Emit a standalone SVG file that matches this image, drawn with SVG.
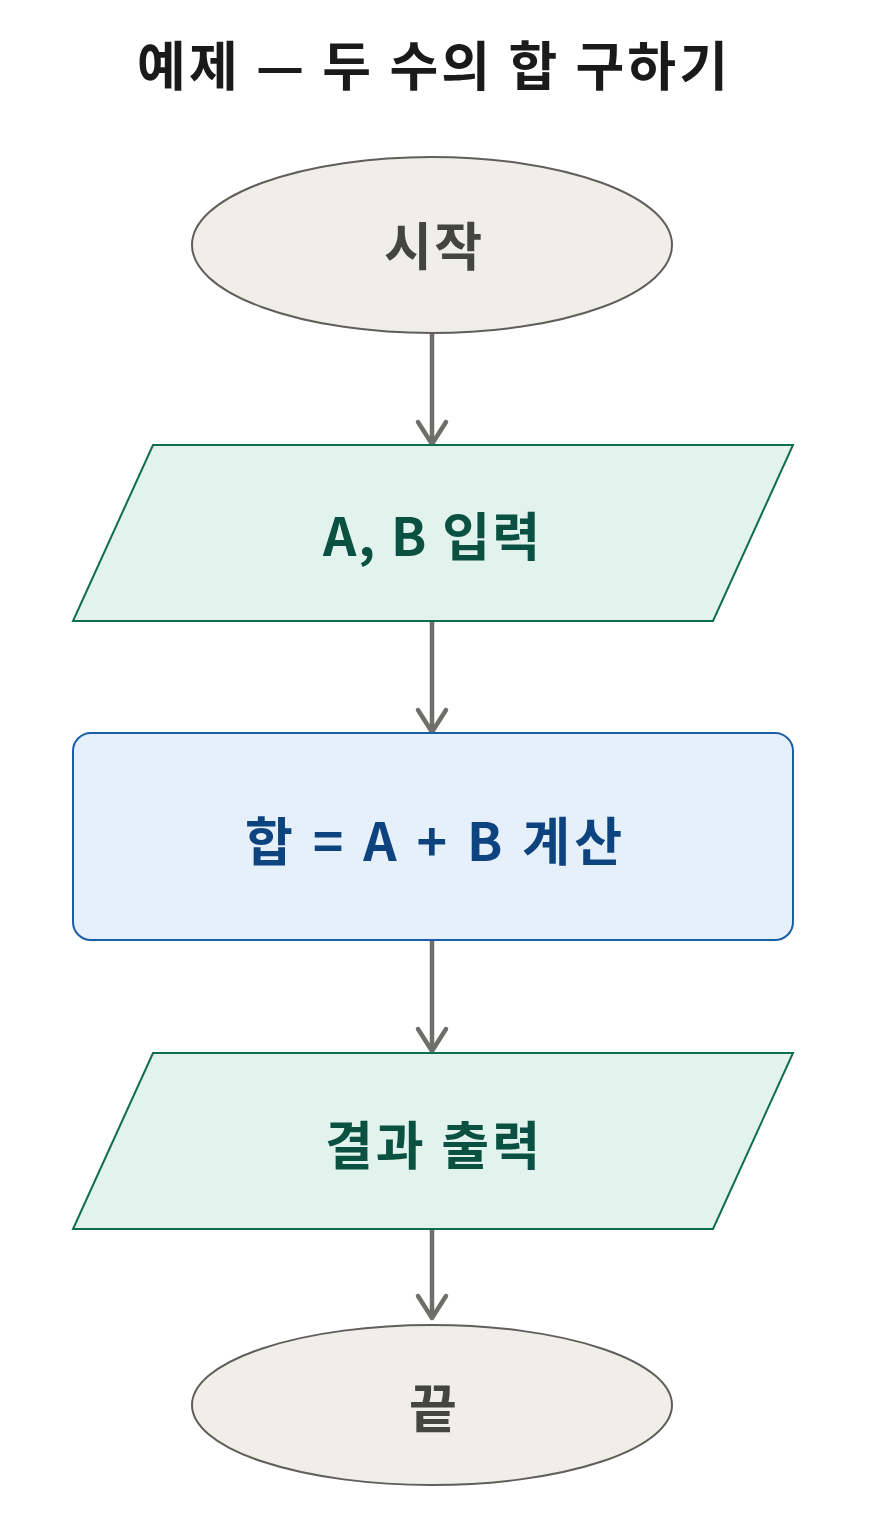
<svg xmlns="http://www.w3.org/2000/svg" width="884" height="1525" viewBox="0 0 884 1525">
<style>
.t{font-family:"Noto Sans CJK KR","Noto Sans",sans-serif;font-weight:bold;text-anchor:middle;dominant-baseline:central}
.term{fill:#f0eee8;stroke:#5f5e5a;stroke-width:2}
.io{fill:#e1f3ec;stroke:#0f6e52;stroke-width:2}
.proc{fill:#e5f0fb;stroke:#1a5ea8;stroke-width:2}
.edge{stroke:#6f6e6a;stroke-width:4.5;fill:none}
</style>
<defs>
<marker id="arr" markerUnits="userSpaceOnUse" markerWidth="40" markerHeight="40" refX="31" refY="20" orient="auto">
<path d="M9,6 L31,20 L9,34" fill="none" stroke="#6f6e6a" stroke-width="4.5" stroke-linecap="round" stroke-linejoin="round"/>
</marker>
</defs>
<rect width="884" height="1525" fill="#ffffff"/>
<text class="t" x="432.5" y="63" font-size="53" fill="#1a1a1a" textLength="591" lengthAdjust="spacing">예제 — 두 수의 합 구하기</text>
<g id="connectors">
<line class="edge" x1="432" y1="333" x2="432" y2="444" marker-end="url(#arr)"/>
<line class="edge" x1="432" y1="621" x2="432" y2="732" marker-end="url(#arr)"/>
<line class="edge" x1="432" y1="940" x2="432" y2="1051" marker-end="url(#arr)"/>
<line class="edge" x1="432" y1="1229" x2="432" y2="1318" marker-end="url(#arr)"/>
</g>
<g id="start">
<ellipse class="term" cx="432" cy="245" rx="240" ry="88"/>
<text class="t" x="433" y="243" font-size="52" fill="#444441" textLength="98" lengthAdjust="spacing">시작</text>
</g>
<g id="input">
<polygon class="io" points="153,445 793,445 713,621 73,621"/>
<text class="t" x="431.5" y="533" font-size="52" fill="#0a5141" textLength="217" lengthAdjust="spacing">A, B 입력</text>
</g>
<g id="calc">
<rect class="proc" x="73" y="733" width="720" height="207" rx="18"/>
<text class="t" x="433.5" y="838" font-size="52" fill="#0d447f" textLength="377" lengthAdjust="spacing">합 = A + B 계산</text>
</g>
<g id="output">
<polygon class="io" points="153,1053 793,1053 713,1229 73,1229"/>
<text class="t" x="432.5" y="1142" font-size="52" fill="#0a5141" textLength="215" lengthAdjust="spacing">결과 출력</text>
</g>
<g id="end">
<ellipse class="term" cx="432" cy="1405" rx="240" ry="80"/>
<text class="t" x="433" y="1405" font-size="52" fill="#444441">끝</text>
</g>
</svg>
